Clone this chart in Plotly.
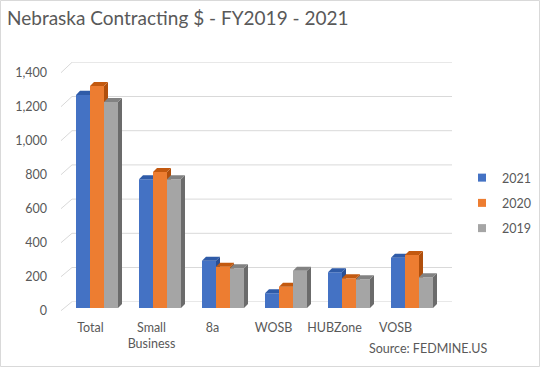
import plotly.graph_objects as go

# ---------------- data ----------------
categories = ["Total", "Small<br>Business", "8a", "WOSB", "HUBZone", "VOSB"]
series_names = ["2021", "2020", "2019"]
values_2021 = [1250, 755, 277, 86, 209, 295]
values_2020 = [1302, 798, 242, 125, 174, 311]
values_2019 = [1208, 755, 233, 219, 168, 180]
y_ticks = [0, 200, 400, 600, 800, 1000, 1200, 1400]
y_tick_text = ["0", "200", "400", "600", "800", "1,000", "1,200", "1,400"]

series_values = [values_2021, values_2020, values_2019]
front_colors = ["#4472C4", "#ED7D31", "#A5A5A5"]
top_colors = ["#2F5BA8", "#C3590F", "#828282"]
side_colors = ["#2A4F94", "#B04F0C", "#6B6B6B"]

W, H = 540, 367
FONT = "Lato"
TXT = "#595959"
GRID = "#D9D9D9"
SMALL = 12.5

def px_x(p):
    return p / W

def px_y(p):
    return 1 - p / H

fig = go.Figure()

# ---------- subplot 1 (xy): back wall ----------
back_left, back_right = 72, 452
back_zero, back_top = 301.7, 62.3
fig.add_trace(go.Scatter(x=[0], y=[0], mode="none", showlegend=False,
                         hoverinfo="skip", xaxis="x", yaxis="y"))

# ---------- subplot 2 (x2y2): front-plane labels ----------
lab_left, lab_right = 60, 426
lab_zero, lab_top = 310.7, 72.7
fig.add_trace(go.Scatter(x=[0], y=[0], mode="none", showlegend=False,
                         hoverinfo="skip", xaxis="x2", yaxis="y2"))

# ---------- subplots 3..5: bars, one subplot per series ----------
bar_left, bar_right = 65.5, 443.5
bar_zero = 308.0
px_per_unit = 0.1705
bar_top = bar_zero - 1400 * px_per_unit
cat_px = (bar_right - bar_left) / len(categories)
bw = 14.0 / cat_px
dx = 4.0 / cat_px
dy = 4.0 / px_per_unit
xs = list(range(len(categories)))

for i, (name, vals) in enumerate(zip(series_names, series_values)):
    xa = "x%d" % (i + 3)
    ya = "y%d" % (i + 3)
    off = -1.5 * bw + i * bw
    fig.add_trace(go.Bar(x=xs, y=vals, width=bw, offset=off,
                         marker=dict(color=front_colors[i], line=dict(width=0)),
                         name=name, showlegend=False, xaxis=xa, yaxis=ya))
    sx, sy, tx, ty = [], [], [], []
    for c, v in zip(xs, vals):
        x0 = c + off
        x1 = x0 + bw
        sx += [x1, x1 + dx, x1 + dx, x1, x1, None]
        sy += [0, dy, v + dy, v, 0, None]
        tx += [x0, x1, x1 + dx, x0 + dx, x0, None]
        ty += [v, v, v + dy, v + dy, v, None]
    fig.add_trace(go.Scatter(x=sx, y=sy, mode="lines", fill="toself",
                             fillcolor=side_colors[i], line=dict(width=0),
                             showlegend=False, hoverinfo="skip", xaxis=xa, yaxis=ya))
    fig.add_trace(go.Scatter(x=tx, y=ty, mode="lines", fill="toself",
                             fillcolor=top_colors[i], line=dict(width=0),
                             showlegend=False, hoverinfo="skip", xaxis=xa, yaxis=ya))
    # legend entry
    fig.add_trace(go.Scatter(x=[None], y=[None], mode="markers", name=name,
                             marker=dict(symbol="square", size=8, color=front_colors[i]),
                             legendgroup=name, xaxis=xa, yaxis=ya))

layout = dict(
    width=W, height=H,
    margin=dict(l=0, r=0, t=0, b=0, autoexpand=False),
    paper_bgcolor="white", plot_bgcolor="rgba(0,0,0,0)",
    font=dict(family=FONT, size=SMALL, color=TXT),
    showlegend=True,
    legend=dict(x=px_x(462), y=px_y(163), xanchor="left", yanchor="top",
                font=dict(family=FONT, size=SMALL, color=TXT),
                tracegroupgap=6, bgcolor="rgba(0,0,0,0)"),
    title=dict(text="Nebraska Contracting $ - FY2019 - 2021",
               x=px_x(7), xanchor="left", y=px_y(18), yanchor="middle",
               font=dict(family=FONT, size=19, color=TXT)),
    xaxis=dict(domain=[px_x(back_left), px_x(back_right)], range=[0, 1],
               visible=False, fixedrange=True),
    yaxis=dict(domain=[px_y(back_zero), px_y(back_top)], range=[0, 1400],
               visible=False, fixedrange=True),
    xaxis2=dict(domain=[px_x(lab_left), px_x(lab_right)], range=[-0.5, 5.5],
                anchor="y2", tickvals=xs, ticktext=categories, showgrid=False,
                zeroline=False, showline=False, ticks="", ticklabelstandoff=8,
                automargin=False,
                tickfont=dict(family=FONT, size=SMALL, color=TXT)),
    yaxis2=dict(domain=[px_y(lab_zero), px_y(lab_top)], range=[0, 1400],
                anchor="x2", tickvals=y_ticks, ticktext=y_tick_text, showgrid=False,
                zeroline=False, showline=False, ticks="", ticklabelstandoff=12,
                automargin=False,
                tickfont=dict(family=FONT, size=SMALL, color=TXT)),
)
for i in range(3):
    n = i + 3
    layout["xaxis%d" % n] = dict(domain=[px_x(bar_left), px_x(bar_right)],
                                 range=[-0.5, 5.5], anchor="y%d" % n,
                                 visible=False, fixedrange=True)
    layout["yaxis%d" % n] = dict(domain=[px_y(bar_zero), px_y(bar_top)],
                                 range=[0, 1400], anchor="x%d" % n,
                                 visible=False, fixedrange=True)
fig.update_layout(**layout)

# back-wall gridlines (on the back-wall value axis) and left-wall diagonals
for v in y_ticks:
    fig.add_shape(type="line", xref="paper", yref="y", layer="below",
                  x0=px_x(back_left), x1=px_x(back_right), y0=v, y1=v,
                  line=dict(color=GRID, width=1))
    yf = lab_zero - v * (lab_zero - lab_top) / 1400
    yb = back_zero - v * (back_zero - back_top) / 1400
    fig.add_shape(type="line", xref="paper", yref="paper", layer="below",
                  x0=px_x(61), y0=px_y(yf), x1=px_x(back_left), y1=px_y(yb),
                  line=dict(color=GRID, width=1))

# source note
fig.add_annotation(text="Source: FEDMINE.US", xref="paper", yref="paper",
                   x=px_x(367), y=px_y(348), xanchor="left", yanchor="middle",
                   showarrow=False, font=dict(family=FONT, size=SMALL, color=TXT))

# chart border
fig.add_shape(type="rect", xref="paper", yref="paper",
              x0=px_x(0.5), y0=px_y(366.5), x1=px_x(539.5), y1=px_y(0.5),
              line=dict(color=GRID, width=1))

fig.write_html("out.html", config=dict(displayModeBar=False),
               post_script="document.body.style.margin='0';"
                           "document.body.style.overflow='hidden';")
